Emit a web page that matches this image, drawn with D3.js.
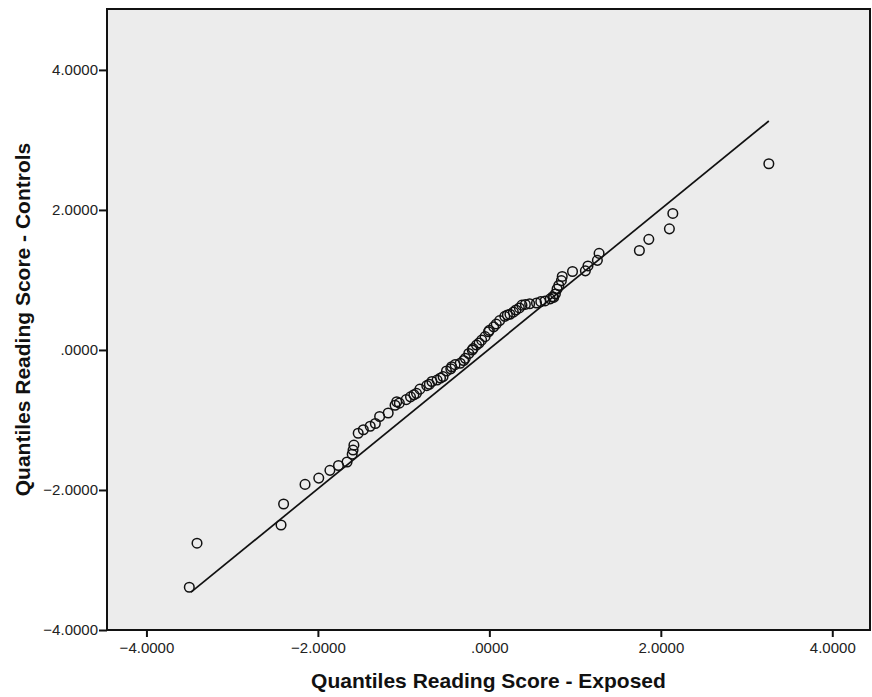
<!DOCTYPE html>
<html>
<head>
<meta charset="utf-8">
<script src="https://cdn.jsdelivr.net/npm/d3@7/dist/d3.min.js"></script>
<style>
  html, body { margin: 0; padding: 0; background: #ffffff; }
  svg { display: block; }
</style>
</head>
<body>
<svg id="chart" width="872" height="697"></svg>
<script>
// ---- Data ----
const exposedQ = [
  -3.50, -3.41, -2.43, -2.40, -2.15, -1.99, -1.86, -1.76, -1.66, -1.60,
  -1.59, -1.58, -1.53, -1.47, -1.39, -1.33, -1.28, -1.18, -1.10, -1.08,
  -1.05, -0.97, -0.92, -0.88, -0.85, -0.81, -0.73, -0.70, -0.67, -0.61,
  -0.57, -0.54, -0.50, -0.45, -0.44, -0.40, -0.34, -0.30, -0.28, -0.24,
  -0.20, -0.19, -0.15, -0.12, -0.09, -0.05, -0.01, 0.00, 0.05, 0.08,
  0.12, 0.18, 0.21, 0.24, 0.28, 0.31, 0.35, 0.38, 0.42, 0.47,
  0.55, 0.60, 0.65, 0.71, 0.74, 0.75, 0.77, 0.79, 0.81, 0.84,
  0.85, 0.97, 1.12, 1.15, 1.26, 1.28, 1.75, 1.86, 2.10, 2.14,
  3.26
];
const controlsQ = [
  -3.39, -2.76, -2.50, -2.20, -1.92, -1.83, -1.72, -1.65, -1.60, -1.49,
  -1.43, -1.36, -1.19, -1.14, -1.09, -1.05, -0.95, -0.90, -0.79, -0.74,
  -0.76, -0.71, -0.67, -0.64, -0.62, -0.56, -0.51, -0.49, -0.45, -0.43,
  -0.40, -0.38, -0.30, -0.27, -0.24, -0.21, -0.19, -0.15, -0.12, -0.05,
  0.00, 0.02, 0.07, 0.10, 0.14, 0.19, 0.26, 0.28, 0.33, 0.37,
  0.42, 0.48, 0.50, 0.51, 0.54, 0.57, 0.60, 0.64, 0.65, 0.66,
  0.67, 0.69, 0.70, 0.73, 0.76, 0.75, 0.80, 0.87, 0.92, 0.99,
  1.05, 1.12, 1.13, 1.20, 1.28, 1.38, 1.42, 1.58, 1.73, 1.95,
  2.66
];
const refLineX = [-3.48, 3.26];
const refLineY = [-3.46, 3.27];
const xTicks = [-4, -2, 0, 2, 4];
const yTicks = [-4, -2, 0, 2, 4];
const xTitle = "Quantiles Reading Score - Exposed";
const yTitle = "Quantiles Reading Score - Controls";

// ---- Layout ----
const plot = { left: 107, top: 9, right: 870, bottom: 630 };
const svg = d3.select("#chart");

const x = d3.scaleLinear().domain([-4.46, 4.44]).range([plot.left, plot.right]);
const y = d3.scaleLinear().domain([-4.0, 4.87]).range([plot.bottom, plot.top]);

const fmt = v => d3.format(".4f")(v).replace(/^(-?)0\./, "$1.");

// background panel
svg.append("rect")
  .attr("x", plot.left).attr("y", plot.top)
  .attr("width", plot.right - plot.left).attr("height", plot.bottom - plot.top)
  .attr("fill", "#ececec");

// reference line
const lineData = refLineX.map((v, i) => [v, refLineY[i]]);
svg.append("path")
  .datum(lineData)
  .attr("d", d3.line().x(d => x(d[0])).y(d => y(d[1])))
  .attr("fill", "none")
  .attr("stroke", "#111")
  .attr("stroke-width", 1.7);

// points
const pts = exposedQ.map((v, i) => [v, controlsQ[i]]);
svg.append("g").selectAll("circle")
  .data(pts).join("circle")
  .attr("cx", d => x(d[0]))
  .attr("cy", d => y(d[1]))
  .attr("r", 4.8)
  .attr("fill", "none")
  .attr("stroke", "#111")
  .attr("stroke-width", 1.5);

// frame
svg.append("rect")
  .attr("x", plot.left).attr("y", plot.top)
  .attr("width", plot.right - plot.left).attr("height", plot.bottom - plot.top)
  .attr("fill", "none")
  .attr("stroke", "#111")
  .attr("stroke-width", 2);

// axes
const xAxis = svg.append("g")
  .attr("transform", `translate(0,${plot.bottom})`)
  .call(d3.axisBottom(x).tickValues(xTicks).tickFormat(fmt).tickSize(7).tickPadding(5));
const yAxis = svg.append("g")
  .attr("transform", `translate(${plot.left},0)`)
  .call(d3.axisLeft(y).tickValues(yTicks).tickFormat(fmt).tickSize(8).tickPadding(1));

[xAxis, yAxis].forEach(g => {
  g.select(".domain").remove();
  g.selectAll(".tick line").attr("stroke", "#111").attr("stroke-width", 2);
  g.selectAll(".tick text")
    .attr("fill", "#222")
    .style("font-family", "'Liberation Sans', Arial, sans-serif")
    .style("font-size", "15px");
});

// titles
svg.append("text")
  .attr("x", (plot.left + plot.right) / 2)
  .attr("y", 688)
  .attr("text-anchor", "middle")
  .style("font-family", "'Liberation Sans', Arial, sans-serif")
  .style("font-weight", "bold")
  .style("font-size", "21px")
  .attr("fill", "#111")
  .text(xTitle);

svg.append("text")
  .attr("transform", `translate(30,${(plot.top + plot.bottom) / 2}) rotate(-90)`)
  .attr("text-anchor", "middle")
  .style("font-family", "'Liberation Sans', Arial, sans-serif")
  .style("font-weight", "bold")
  .style("font-size", "21px")
  .attr("fill", "#111")
  .text(yTitle);
</script>
</body>
</html>
